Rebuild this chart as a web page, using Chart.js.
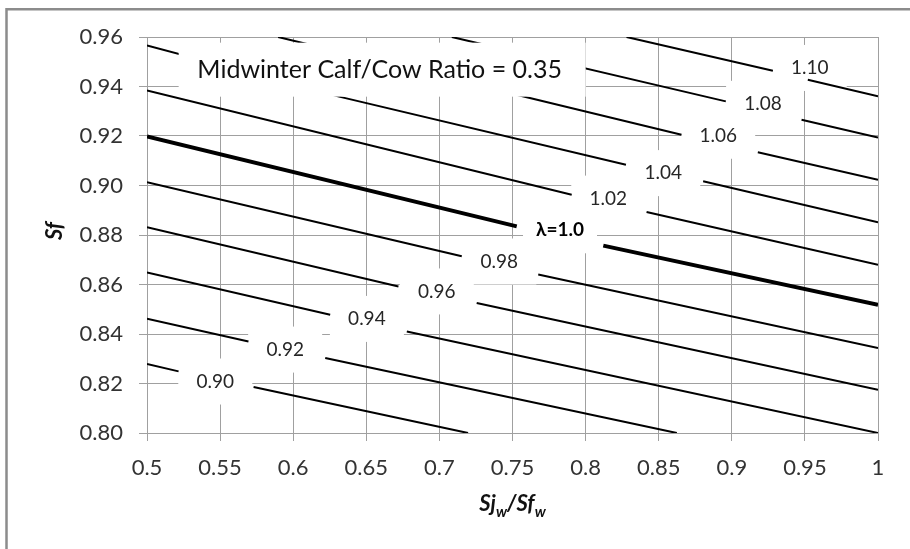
<!DOCTYPE html>
<html lang="en">
<head>
  <meta charset="UTF-8">
  <title>Midwinter Calf/Cow Ratio = 0.35</title>
  <script src="https://cdn.jsdelivr.net/npm/chart.js"></script>
  <style>
    body {
      margin: 0;
      background: #fff;
    }
    #wrap {
      width: 910px;
      height: 549px;
    }
  </style>
</head>
<body>
  <div id="wrap"><canvas id="chart" width="910" height="549"></canvas></div>

  <script>
    // tick values + labels
    const xTickValues = [0.5, 0.55, 0.6, 0.65, 0.7, 0.75, 0.8, 0.85, 0.9, 0.95, 1];
    const xTickLabels = ["0.5", "0.55", "0.6", "0.65", "0.7", "0.75", "0.8", "0.85", "0.9", "0.95", "1"];
    const yTickValues = [0.80, 0.82, 0.84, 0.86, 0.88, 0.90, 0.92, 0.94, 0.96];
    const yTickLabels = ["0.80", "0.82", "0.84", "0.86", "0.88", "0.90", "0.92", "0.94", "0.96"];

    // lambda contours [Sj/Sf, Sf]. null = gap where the label sits
    const line090 = [[0.5, 0.8279], [0.5216, 0.8249], null, [0.5729, 0.8186], [0.7196, 0.80]];
    const line092 = [[0.5, 0.8462], [0.5694, 0.8370], null, [0.6219, 0.8303], [0.8624, 0.80]];
    const line094 = [[0.5, 0.8649], [0.6253, 0.8478], null, [0.6777, 0.8410], [1.0, 0.80]];
    const line096 = [[0.5, 0.8831], [0.6720, 0.8592], null, [0.7255, 0.8525], [1.0, 0.8175]];
    const line098 = [[0.5, 0.9013], [0.7153, 0.8714], null, [0.7676, 0.8640], [1.0, 0.8343]];
    const line100 = [[0.5, 0.9198], [0.7529, 0.8835], null, [0.8121, 0.8757], [1.0, 0.8518]];
    const line102 = [[0.5, 0.9384], [0.7905, 0.8963], null, [0.8417, 0.8893], [1.0, 0.8680]];
    const line104 = [[0.5, 0.9566], [0.6307, 0.9360], [0.8276, 0.9084], null, [0.8804, 0.9017], [1.0, 0.8851]];
    const line106 = [[0.5897, 0.96], [0.8656, 0.9205], null, [0.9178, 0.9134], [1.0, 0.9023]];
    const line108 = [[0.7085, 0.96], [0.8959, 0.9340], null, [0.9477, 0.9266], [1.0, 0.9194]];
    const line110 = [[0.8280, 0.96], [0.9281, 0.9464], null, [0.9520, 0.9427], [1.0, 0.9360]];

    const contourLines = [line090, line092, line094, line096, line098, line100,
                          line102, line104, line106, line108, line110];
    const contourWidths = [2, 2, 2, 2, 2, 4, 2, 2, 2, 2, 2];

    // contour labels
    const labelText = ["0.90", "0.92", "0.94", "0.96", "0.98", "λ=1.0", "1.02", "1.04", "1.06", "1.08", "1.10"];
    const labelX = [0.5467, 0.5945, 0.6504, 0.6982, 0.7410, 0.7825, 0.8155, 0.8531, 0.8907, 0.9214, 0.9533];
    const labelY = [0.8208, 0.8337, 0.8461, 0.8572, 0.8693, 0.8819, 0.8947, 0.9050, 0.9201, 0.9330, 0.9475];

    const noteText = "Midwinter Calf/Cow Ratio = 0.35";
    const noteX = 0.6605;
    const noteY = 0.9468;

    const FONT = "Lato, 'Noto Sans', sans-serif";
    const GRID = "#a0a0a0";

    function toPoints(line) {
      const pts = [];
      let lastX = 0.5;
      line.forEach(p => {
        if (p === null) {
          pts.push({ x: lastX, y: null });
        } else {
          pts.push({ x: p[0], y: p[1] });
          lastX = p[0];
        }
      });
      return pts;
    }

    // outer frame, like the spreadsheet chart border
    const framePlugin = {
      id: "frame",
      beforeDraw(chart) {
        const ctx = chart.ctx;
        ctx.save();
        ctx.fillStyle = "#fff";
        ctx.fillRect(0, 0, chart.width, chart.height);
        ctx.strokeStyle = "#8c8c8c";
        ctx.lineWidth = 2.5;
        ctx.beginPath();
        ctx.moveTo(6.5, chart.height + 5);
        ctx.lineTo(6.5, 9.3);
        ctx.lineTo(chart.width + 5, 9.3);
        ctx.stroke();
        ctx.restore();
      }
    };

    // white boxes behind contour labels (cover the gridlines), then label text
    const labelPlugin = {
      id: "contourLabels",
      beforeDatasetsDraw(chart) {
        const ctx = chart.ctx;
        const xs = chart.scales.x, ys = chart.scales.y;
        const a = chart.chartArea;
        ctx.save();
        ctx.beginPath();
        ctx.rect(a.left, a.top, a.right - a.left, a.bottom - a.top);
        ctx.clip();
        ctx.fillStyle = "#fff";
        labelText.forEach((t, i) => {
          const px = xs.getPixelForValue(labelX[i]);
          const py = ys.getPixelForValue(labelY[i]);
          ctx.fillRect(px - 37, py - 23, 74, 46);
        });
        ctx.restore();
      },
      afterDatasetsDraw(chart) {
        const ctx = chart.ctx;
        const xs = chart.scales.x, ys = chart.scales.y;
        ctx.save();

        // note box + text
        const nx = xs.getPixelForValue(noteX);
        const ny = ys.getPixelForValue(noteY);
        ctx.fillStyle = "#fff";
        ctx.fillRect(nx - 203, ny - 27, 407, 54);
        ctx.fillStyle = "#111";
        ctx.font = "25px " + FONT;
        ctx.textAlign = "center";
        ctx.textBaseline = "middle";
        ctx.fillText(noteText, nx - 2, ny);

        labelText.forEach((t, i) => {
          const px = xs.getPixelForValue(labelX[i]);
          const py = ys.getPixelForValue(labelY[i]);
          const bold = t.startsWith("λ");
          ctx.font = (bold ? "bold " : "") + "19px " + FONT;
          ctx.fillStyle = bold ? "#000" : "#262626";
          ctx.fillText(t, px, py);
        });
        ctx.restore();
      }
    };

    // axis titles with subscripts
    function drawParts(ctx, parts, cx, baseline) {
      let total = 0;
      parts.forEach(p => {
        ctx.font = "italic bold " + (p.sub ? 15 : 22) + "px " + FONT;
        p.w = ctx.measureText(p.t).width;
        total += p.w;
      });
      let x = cx - total / 2;
      parts.forEach(p => {
        ctx.font = "italic bold " + (p.sub ? 15 : 22) + "px " + FONT;
        ctx.fillText(p.t, x, baseline + (p.sub ? 6 : 0));
        x += p.w;
      });
    }

    const axisTitlePlugin = {
      id: "axisTitles",
      afterDraw(chart) {
        const ctx = chart.ctx;
        const a = chart.chartArea;
        ctx.save();
        ctx.fillStyle = "#111";
        ctx.textAlign = "left";
        ctx.textBaseline = "alphabetic";
        drawParts(ctx, [{ t: "Sj" }, { t: "w", sub: true }, { t: "/Sf" }, { t: "w", sub: true }],
                  (a.left + a.right) / 2, a.bottom + 78);

        ctx.translate(a.left - 85, (a.top + a.bottom) / 2 - 4);
        ctx.rotate(-Math.PI / 2);
        ctx.textAlign = "center";
        ctx.font = "italic bold 22px " + FONT;
        ctx.fillText("Sf", 0, 0);
        ctx.restore();
      }
    };

    new Chart(document.getElementById("chart"), {
      type: "scatter",
      data: {
        datasets: contourLines.map((line, i) => ({
          label: labelText[i],
          data: toPoints(line),
          showLine: true,
          spanGaps: false,
          borderColor: "#000",
          borderWidth: contourWidths[i],
          pointRadius: 0,
          pointHoverRadius: 0,
          tension: 0
        }))
      },
      options: {
        responsive: false,
        animation: false,
        devicePixelRatio: 1,
        layout: { padding: { top: 37, right: 32, left: 0, bottom: 0 } },
        plugins: {
          legend: { display: false },
          tooltip: { enabled: false }
        },
        scales: {
          x: {
            type: "linear",
            min: 0.5,
            max: 1,
            grid: { color: GRID, lineWidth: 1, tickLength: 8 },
            border: { color: GRID },
            afterBuildTicks: s => { s.ticks = xTickValues.map(v => ({ value: v })); },
            afterFit: s => { s.height = 116; },
            ticks: {
              padding: 14,
              color: "#333",
              font: { family: FONT, size: 22 },
              maxRotation: 0,
              autoSkip: false,
              callback: (v, i) => xTickLabels[i]
            }
          },
          y: {
            type: "linear",
            min: 0.80,
            max: 0.96,
            grid: { color: GRID, lineWidth: 1, tickLength: 8 },
            border: { color: GRID },
            afterBuildTicks: s => { s.ticks = yTickValues.map(v => ({ value: v })); },
            afterFit: s => { s.width = 147; },
            ticks: {
              padding: 16,
              color: "#333",
              font: { family: FONT, size: 22 },
              autoSkip: false,
              callback: (v, i) => yTickLabels[i]
            }
          }
        }
      },
      plugins: [framePlugin, labelPlugin, axisTitlePlugin]
    });
  </script>
</body>
</html>
